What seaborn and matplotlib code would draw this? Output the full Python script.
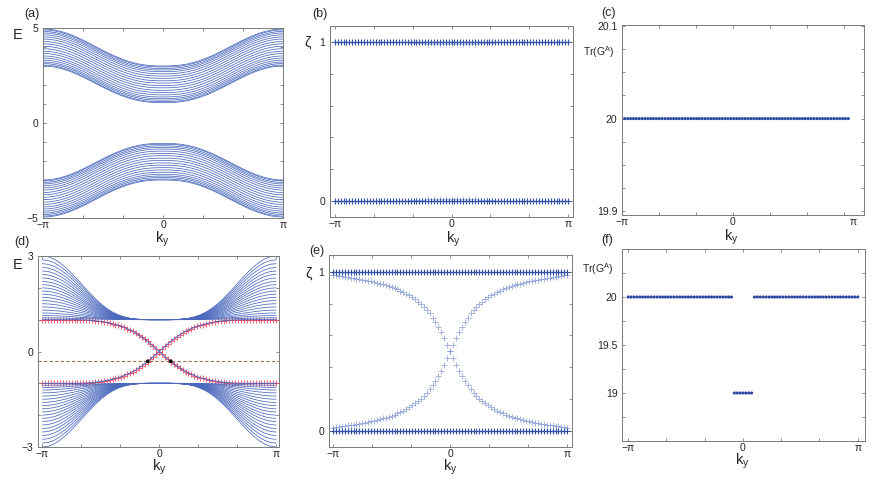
import numpy as np
import pandas as pd
import matplotlib
matplotlib.use("Agg")
import matplotlib.pyplot as plt
import matplotlib.transforms as mtransforms
import seaborn as sns

PI = np.pi

# ---------------- data ----------------
# bulk-band shape, read at |k_y|/pi = 0, 0.05, ..., 1 (0 at k_y=0, 1 at k_y=±pi)
bulk_shape_a = [0.0, 0.0017, 0.0097, 0.0263, 0.0531, 0.0906, 0.1389, 0.1973, 0.2649, 0.3399,
                0.4205, 0.5042, 0.5887, 0.6713, 0.7494, 0.8204, 0.8821, 0.9324, 0.9695, 0.9924, 1.0]
bulk_shape_d = [0.0, 0.0, 0.0006, 0.003, 0.0091, 0.0215, 0.0425, 0.0745, 0.1194, 0.1779,
                0.25, 0.3343, 0.4284, 0.5285, 0.6303, 0.7286, 0.8181, 0.8940, 0.9517, 0.9877, 1.0]

# (a) upper bulk band: energies at k_y = 0 and at k_y = ±pi (lower band mirrors it)
band_a_at_0 = [1.07, 1.12, 1.20, 1.28, 1.37, 1.48, 1.60, 1.72, 1.85, 1.97,
               2.10, 2.22, 2.35, 2.47, 2.59, 2.70, 2.79, 2.87, 2.95, 3.00]
band_a_at_pi = [3.00, 3.05, 3.13, 3.21, 3.31, 3.42, 3.53, 3.66, 3.78, 3.91,
                4.04, 4.17, 4.29, 4.42, 4.53, 4.64, 4.74, 4.82, 4.90, 4.95]

# (d) upper bulk band
band_d_at_0 = 1.0
band_d_at_pi = [1.06, 1.13, 1.21, 1.30, 1.40, 1.50, 1.60, 1.70, 1.80, 1.90,
                2.00, 2.10, 2.20, 2.31, 2.42, 2.53, 2.64, 2.76, 2.88, 3.00]

# (d) edge state |E|, read at |k_y|/pi = 0, 0.025, ..., 1
edge_d = [0.0, 0.082, 0.163, 0.242, 0.318, 0.390, 0.458, 0.521, 0.578, 0.630,
          0.678, 0.720, 0.757, 0.790, 0.820, 0.847, 0.871, 0.892, 0.911, 0.928,
          0.943, 0.956, 0.967, 0.976, 0.983, 0.989, 0.993, 0.996, 0.998, 1.0,
          1.0, 1.0, 1.0, 1.0, 1.0, 1.0, 1.0, 1.0, 1.0, 1.0, 1.0]
fermi_level = -0.31
fermi_k = [-0.31, 0.31]

# (e) crossing zeta branch (value on the k_y<0 side), at |k_y|/pi = 0, 0.025, ..., 1
zeta_e = [0.5, 0.54, 0.585, 0.62, 0.652, 0.683, 0.712, 0.738, 0.76, 0.78,
          0.797, 0.812, 0.826, 0.839, 0.851, 0.862, 0.872, 0.881, 0.889, 0.897,
          0.904, 0.910, 0.916, 0.921, 0.926, 0.931, 0.935, 0.939, 0.943, 0.947,
          0.950, 0.953, 0.956, 0.959, 0.962, 0.965, 0.968, 0.971, 0.974, 0.977, 0.98]
zeta_plateaus = [1.0, 0.0]

# (b) faint branch just under zeta=1, at |k_y|/pi = 0, 0.05, ..., 1
zeta_b_dip = [0.986, 0.986, 0.987, 0.988, 0.989, 0.991, 0.993, 0.995, 0.997, 0.999,
              1.0, 1.0, 1.0, 1.0, 1.0, 1.0, 1.0, 1.0, 1.0, 1.0, 1.0]

# (c), (f) Tr(G^A)
trace_c = [20.0] * 80
trace_f = [20.0] * 37 + [19.0] * 7 + [20.0] * 37

# tick labels
xtick_labels = ["\u2212\u03c0", "", "", "0", "", "", "\u03c0"]
panel_letters = ["(a)", "(b)", "(c)", "(d)", "(e)", "(f)"]

# ---------------- grids ----------------
k_line = np.linspace(-PI, PI, 41)
k_mark = np.linspace(-PI, PI, 81)
k_c = np.linspace(-PI, 3.27, 80)


def mirror(half):
    h = np.asarray(half, dtype=float)
    return np.concatenate([h[::-1], h[1:]])


def antisym(half):
    h = np.asarray(half, dtype=float)
    return np.concatenate([h[::-1], -h[1:]])


# ---------------- style ----------------
sns.set_style("ticks")
plt.rcParams["font.family"] = ["Liberation Sans", "DejaVu Sans"]
plt.rcParams["mathtext.fontset"] = "custom"
plt.rcParams["mathtext.rm"] = "Liberation Sans"
plt.rcParams["mathtext.it"] = "Liberation Sans:italic"

BLUE_LINE = "#4a69bd"
BLUE_MARK = "#3352a8"
BLUE_LIGHT = "#7d95d4"
RED = "#f03c55"
DOT = "#2a479f"
FRAME = "#7a7a7a"

W, H = 872, 480
fig = plt.figure(figsize=(W / 100, H / 100), dpi=100)


def add_ax(l, t, r, b):
    return fig.add_axes([l / W, 1 - b / H, (r - l) / W, (b - t) / H])


def style(ax, xlim, ylim, yticks, ylabels, xlabels=xtick_labels):
    ax.set_xlim(*xlim)
    ax.set_ylim(*ylim)
    ax.set_xticks([-PI + j * PI / 3 for j in range(7)])
    ax.set_xticklabels(xlabels)
    ax.set_yticks(yticks)
    ax.set_yticklabels(ylabels)
    ax.tick_params(direction="in", length=2.5, width=0.6, color=FRAME,
                   top=True, right=True, labelsize=7.5)
    ax.tick_params(axis="x", pad=1.5)
    ax.tick_params(axis="y", pad=3.2)
    for s in ax.spines.values():
        s.set_visible(True)
        s.set_color(FRAME)
        s.set_linewidth(0.7)
    ax.set_xlabel("")
    ax.set_ylabel("")


def ftext(x, y, s, va="center", **kw):
    fig.text(x / W, 1 - y / H, s, ha="center", va=va, **kw)


# ---------------- (a) ----------------
ax_a = add_ax(43, 28, 283, 218)
shape_a = mirror(bulk_shape_a)
rows = []
for n, (e0, ep) in enumerate(zip(band_a_at_0, band_a_at_pi)):
    E = e0 + (ep - e0) * shape_a
    for kk, ee in zip(k_line, E):
        rows.append((kk, ee, f"u{n}"))
        rows.append((kk, -ee, f"l{n}"))
df_a = pd.DataFrame(rows, columns=["k", "E", "band"])
sns.lineplot(data=df_a, x="k", y="E", units="band", estimator=None, sort=False,
             color=BLUE_LINE, linewidth=0.55, ax=ax_a, legend=False)
style(ax_a, (-PI, PI), (-5, 5), list(range(-5, 6)),
      ["\u22125", "", "", "", "", "0", "", "", "", "", "5"])

# ---------------- (b) ----------------
ax_b = add_ax(330, 26, 573, 217)
zeta_ticks = [0, 0.2, 0.4, 0.6, 0.8, 1.0]
zeta_labels = ["0", "", "", "", "", "1"]
dip_b = mirror(zeta_b_dip)
sns.scatterplot(x=k_line, y=dip_b, marker="+", s=16, linewidth=0.7, color=BLUE_LIGHT,
                alpha=0.45, ax=ax_b, legend=False)
sns.scatterplot(x=k_line, y=1 - dip_b, marker="+", s=16, linewidth=0.7, color=BLUE_LIGHT,
                alpha=0.45, ax=ax_b, legend=False)
for z in zeta_plateaus:
    yy = np.full_like(k_mark, z)
    sns.lineplot(x=k_mark, y=yy, color=BLUE_MARK, linewidth=0.9, ax=ax_b, legend=False)
    sns.scatterplot(x=k_mark, y=yy, marker="+", s=20, linewidth=0.8, color=BLUE_MARK,
                    ax=ax_b, legend=False)
style(ax_b, (-3.27, 3.27), (-0.1, 1.1), zeta_ticks, zeta_labels)

# ---------------- (c) ----------------
ax_c = add_ax(622, 25, 864, 215)
sns.scatterplot(x=k_c, y=trace_c, marker="o", s=5, color=DOT, edgecolor="none",
                ax=ax_c, legend=False)
c_ticks = [19.9 + 0.025 * j for j in range(9)]
c_labels = ["19.9", "", "", "", "20", "", "", "", "20.1"]
style(ax_c, (-PI, 3.716), (19.896, 20.101), c_ticks, c_labels,
      xlabels=["\u2212\u03c0", "", "", "0", "", "", ""])
blend = mtransforms.blended_transform_factory(ax_c.transData, ax_c.transAxes)
ax_c.annotate("\u03c0", xy=(3.40, 0), xycoords=blend, xytext=(0, -1.5),
              textcoords="offset points", ha="center", va="top", fontsize=7.5)

# ---------------- (d) ----------------
ax_d = add_ax(38, 256, 279, 447)
shape_d = mirror(bulk_shape_d)
rows = []
for n, ep in enumerate(band_d_at_pi):
    E = band_d_at_0 + (ep - band_d_at_0) * shape_d
    for kk, ee in zip(k_line, E):
        rows.append((kk, ee, f"u{n}"))
        rows.append((kk, -ee, f"l{n}"))
df_d = pd.DataFrame(rows, columns=["k", "E", "band"])
sns.lineplot(data=df_d, x="k", y="E", units="band", estimator=None, sort=False,
             color=BLUE_LINE, linewidth=0.55, ax=ax_d, legend=False)
edge_A = antisym(edge_d)
edge_B = -edge_A
for br in (edge_A, edge_B):
    sns.lineplot(x=k_mark, y=br, color=BLUE_LINE, linewidth=0.7, ax=ax_d, legend=False)
    sns.scatterplot(x=k_mark, y=br, marker="+", s=18, linewidth=0.75, color=RED,
                    alpha=0.75, ax=ax_d, legend=False)
ax_d.axhline(fermi_level, color="#9c7458", linewidth=0.8, dashes=(3, 2))
sns.scatterplot(x=fermi_k, y=[fermi_level] * len(fermi_k), marker="o", s=7,
                color="black", edgecolor="none", ax=ax_d, legend=False, zorder=5)
style(ax_d, (-3.26, 3.22), (-3, 3), list(range(-3, 4)),
      ["\u22123", "", "", "0", "", "", "3"])

# ---------------- (e) ----------------
ax_e = add_ax(329, 255, 572, 447)
zeta_desc = np.concatenate([np.asarray(zeta_e)[::-1], 1 - np.asarray(zeta_e)[1:]])
zeta_asc = 1 - zeta_desc
for br in (zeta_desc, zeta_asc):
    sns.scatterplot(x=k_mark, y=br, marker="+", s=14, linewidth=0.7, color=BLUE_LIGHT,
                    alpha=0.7, ax=ax_e, legend=False)
for z in zeta_plateaus:
    yy = np.full_like(k_mark, z)
    sns.lineplot(x=k_mark, y=yy, color=BLUE_MARK, linewidth=0.9, ax=ax_e, legend=False)
    sns.scatterplot(x=k_mark, y=yy, marker="+", s=20, linewidth=0.8, color=BLUE_MARK,
                    ax=ax_e, legend=False)
style(ax_e, (-3.25, 3.27), (-0.1, 1.105), zeta_ticks, zeta_labels)

# ---------------- (f) ----------------
ax_f = add_ax(622, 249, 865, 441)
sns.scatterplot(x=k_mark, y=trace_f, marker="o", s=5, color=DOT, edgecolor="none",
                ax=ax_f, legend=False)
f_ticks = [18.5 + 0.25 * j for j in range(9)]
f_labels = ["", "", "19", "", "19.5", "", "20", "", ""]
style(ax_f, (-3.31, 3.34), (18.5, 20.5), f_ticks, f_labels)

# ---------------- texts ----------------
ky = r"k$_\mathrm{y}$"
for (x, y) in [(162, 230), (453, 230), (731, 228), (159, 458), (450, 458), (742, 452)]:
    ftext(x, y, ky, va="top", fontsize=10.5)
for s, (x, y) in zip(panel_letters, [(32, 14), (320, 14), (608, 13), (22, 242), (317, 251), (607, 240)]):
    ftext(x, y, s, fontsize=9)
ftext(18, 35, "E", fontsize=10.5)
ftext(18, 265, "E", fontsize=10.5)
ftext(308, 43, "\u03b6", fontsize=10.5)
ftext(309, 274, "\u03b6", fontsize=10.5)
ftext(599, 52, r"Tr(G$^\mathrm{A}$)", fontsize=7.5)
ftext(598, 269, r"Tr(G$^\mathrm{A}$)", fontsize=7.5)

fig.savefig("out.png", dpi=100)
